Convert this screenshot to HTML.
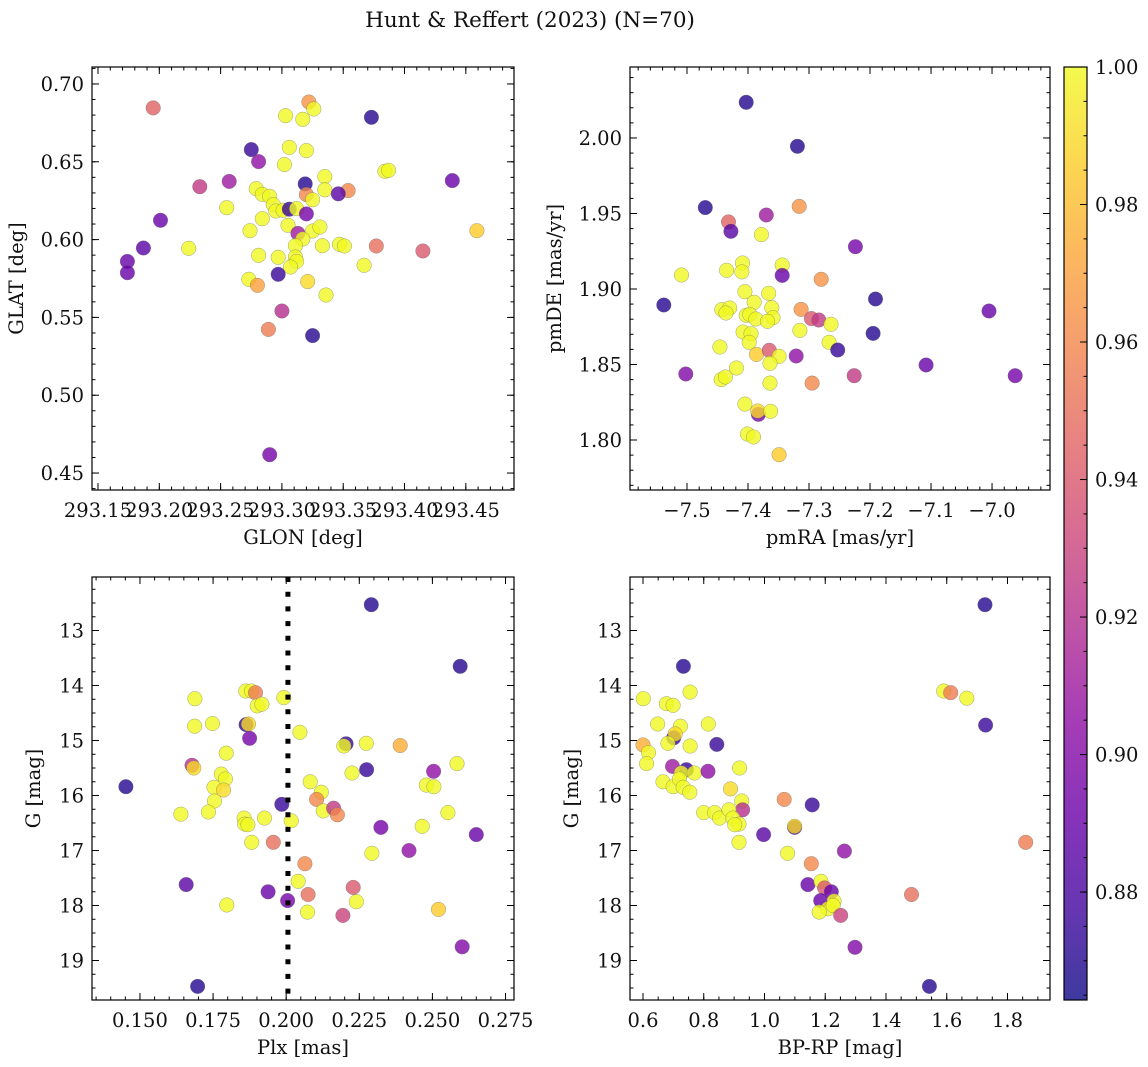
<!DOCTYPE html>
<html><head><meta charset="utf-8">
<style>
html,body{margin:0;padding:0;background:#fff;}
svg{display:block;font-family:"DejaVu Serif","Liberation Serif",serif;}
</style></head>
<body>
<svg id="fig" width="1148" height="1067" viewBox="0 0 1148 1067" xmlns="http://www.w3.org/2000/svg">
<rect width="1148" height="1067" fill="#fff"/>
<text x="530" y="27" font-size="21.5" text-anchor="middle" fill="#111">Hunt &amp; Reffert (2023) (N=70)</text>
<defs>
<linearGradient id="plasma" x1="0" y1="1" x2="0" y2="0">
<stop offset="0" stop-color="#0d0887"/><stop offset="0.1" stop-color="#41049d"/><stop offset="0.2" stop-color="#6a00a8"/><stop offset="0.3" stop-color="#8f0da4"/><stop offset="0.4" stop-color="#b12a90"/><stop offset="0.5" stop-color="#cc4778"/><stop offset="0.6" stop-color="#e16462"/><stop offset="0.7" stop-color="#f2844b"/><stop offset="0.8" stop-color="#fca636"/><stop offset="0.9" stop-color="#fcce25"/><stop offset="1" stop-color="#f0f921"/>
</linearGradient>
</defs>
</svg>
<script>
// ---- Panel 1: GLON vs GLAT ----
const glon=[293.195,293.322,293.326,293.303,293.317,293.373,293.275,293.281,293.306,293.320,293.302,293.384,293.387,293.439,293.233,293.257,293.335,293.319,293.335,293.354,293.346,293.320,293.325,293.279,293.284,293.290,293.293,293.255,293.295,293.301,293.306,293.312,293.320,293.201,293.284,293.274,293.305,293.313,293.325,293.331,293.317,293.311,293.333,293.347,293.351,293.377,293.415,293.459,293.224,293.187,293.174,293.174,293.281,293.297,293.311,293.312,293.307,293.367,293.297,293.273,293.280,293.321,293.336,293.300,293.289,293.325,293.290];
const glat=[0.6846,0.6884,0.6839,0.6796,0.6773,0.6786,0.6578,0.6501,0.6593,0.6572,0.6482,0.6439,0.6445,0.6379,0.6340,0.6374,0.6405,0.6358,0.6320,0.6315,0.6294,0.6289,0.6256,0.6327,0.6291,0.6278,0.6224,0.6205,0.6184,0.6188,0.6195,0.6199,0.6165,0.6124,0.6134,0.6057,0.6092,0.6040,0.6055,0.6081,0.6004,0.5961,0.5961,0.5970,0.5959,0.5959,0.5927,0.6057,0.5944,0.5946,0.5860,0.5787,0.5899,0.5886,0.5888,0.5860,0.5824,0.5835,0.5777,0.5745,0.5706,0.5730,0.5644,0.5541,0.5423,0.5383,0.4618];
const probPos=[0.945,0.965,1,1,1,0.87,0.875,0.905,1,1,1,1,1,0.89,0.925,0.91,1,0.87,1,0.96,0.885,0.96,1,1,1,1,1,1,1,1,0.875,1,0.895,0.89,1,1,1,0.91,1,1,1,1,1,1,1,0.95,0.94,0.985,1,0.885,0.89,0.89,1,1,1,1,1,1,0.875,1,0.97,0.99,1,0.92,0.955,0.87,0.895];
const glonTicks=[293.15,293.20,293.25,293.30,293.35,293.40,293.45];
const glatTicks=[0.45,0.50,0.55,0.60,0.65,0.70];

// ---- Panel 2: pmRA vs pmDE ----
const pmra=[-7.403,-7.319,-7.470,-7.370,-7.316,-7.432,-7.428,-7.378,-7.224,-7.509,-7.435,-7.409,-7.410,-7.344,-7.344,-7.280,-7.538,-7.191,-7.005,-7.405,-7.366,-7.390,-7.443,-7.430,-7.436,-7.361,-7.313,-7.403,-7.397,-7.387,-7.359,-7.368,-7.296,-7.284,-7.264,-7.315,-7.408,-7.395,-7.398,-7.267,-7.253,-7.195,-7.446,-7.386,-7.365,-7.349,-7.321,-7.364,-7.419,-7.502,-7.444,-7.437,-7.108,-6.962,-7.226,-7.295,-7.364,-7.405,-7.383,-7.384,-7.363,-7.401,-7.391,-7.349];
const pmde=[2.0236,1.9945,1.9539,1.9490,1.9547,1.9444,1.9382,1.9360,1.9280,1.9093,1.9124,1.9172,1.9113,1.9159,1.9090,1.9064,1.8894,1.8934,1.8854,1.8982,1.8971,1.8912,1.8863,1.8874,1.8841,1.8876,1.8865,1.8826,1.8832,1.8801,1.8810,1.8786,1.8804,1.8795,1.8766,1.8726,1.8715,1.8704,1.8647,1.8647,1.8596,1.8706,1.8616,1.8567,1.8594,1.8554,1.8556,1.8508,1.8477,1.8437,1.8400,1.8417,1.8497,1.8426,1.8426,1.8377,1.8377,1.8238,1.8170,1.8192,1.8190,1.8040,1.8020,1.7903];
const probPm=[0.87,0.87,0.87,0.91,0.965,0.945,0.885,1,0.895,1,1,1,1,1,0.89,0.965,0.87,0.87,0.89,1,1,1,1,1,1,1,0.965,1,1,1,1,1,0.94,0.925,1,1,1,1,1,1,0.875,0.87,1,0.985,0.94,1,0.905,1,1,0.9,1,1,0.89,0.895,0.925,0.96,1,1,0.895,0.99,1,1,1,0.985];
const pmraTicks=[-7.5,-7.4,-7.3,-7.2,-7.1,-7.0];
const pmdeTicks=[1.80,1.85,1.90,1.95,2.00];

// ---- Panel 3: Plx vs G ----
const plx=[0.2291,0.2595,0.1688,0.1687,0.1748,0.1862,0.1881,0.1895,0.1901,0.1917,0.1992,0.1863,0.1871,0.1875,0.2047,0.2205,0.2197,0.2274,0.2390,0.1795,0.1678,0.1684,0.2584,0.2504,0.2225,0.2275,0.1452,0.1778,0.1792,0.1753,0.1786,0.1755,0.2082,0.2120,0.2104,0.2479,0.2505,0.1985,0.1640,0.1734,0.1856,0.1858,0.1869,0.1926,0.2017,0.2127,0.2162,0.2175,0.2553,0.2324,0.2465,0.2650,0.1882,0.1956,0.2293,0.2420,0.2064,0.1658,0.2041,0.2229,0.1938,0.2075,0.2005,0.2240,0.1797,0.2073,0.2521,0.2194,0.2602,0.1697];
const gPlx=[12.53,13.65,14.24,14.74,14.69,14.10,14.10,14.13,14.37,14.34,14.22,14.71,14.70,14.96,14.85,15.06,15.10,15.05,15.09,15.23,15.45,15.50,15.42,15.56,15.59,15.53,15.84,15.61,15.70,15.85,15.90,16.10,15.75,15.94,16.07,15.81,15.84,16.16,16.34,16.30,16.41,16.52,16.53,16.41,16.46,16.28,16.23,16.35,16.31,16.58,16.56,16.71,16.85,16.85,17.05,17.00,17.24,17.62,17.56,17.67,17.75,17.80,17.91,17.93,17.99,18.12,18.07,18.18,18.75,19.47];
const probPlx=[0.87,0.87,1,1,1,1,1,0.955,1,1,1,0.875,0.99,0.895,1,0.875,1,1,0.975,1,0.92,0.99,1,0.905,1,0.875,0.87,1,1,1,0.99,1,1,1,0.96,1,1,0.875,1,1,1,1,1,1,1,1,0.925,0.96,1,0.895,1,0.89,1,0.95,1,0.905,0.96,0.885,1,0.94,0.89,0.95,0.895,1,1,1,0.985,0.93,0.9,0.87];
const plxCut=[0.2006];
const plxTicks=[0.150,0.175,0.200,0.225,0.250,0.275];
const gTicks=[13,14,15,16,17,18,19];

// ---- Panel 4: BP-RP vs G ----
const bprp=[1.726,0.733,1.590,1.613,1.666,1.728,0.601,0.755,0.677,0.699,0.648,0.723,0.815,0.701,0.706,0.682,0.600,0.755,0.843,0.618,0.612,0.697,0.743,0.726,0.769,0.814,0.918,0.666,0.699,0.720,0.732,0.754,0.888,1.065,1.157,0.925,0.928,0.800,0.836,0.852,0.883,0.896,0.916,0.902,1.099,1.099,0.997,0.916,1.076,1.263,1.154,1.860,1.143,1.186,1.198,1.220,1.185,1.229,1.209,1.180,1.226,1.251,1.484,1.298,1.543];
const gCmd=[12.53,13.65,14.10,14.13,14.23,14.72,14.24,14.12,14.33,14.36,14.70,14.74,14.70,14.95,14.88,15.05,15.08,15.10,15.07,15.22,15.42,15.47,15.53,15.59,15.59,15.56,15.50,15.75,15.84,15.70,15.85,15.94,15.88,16.07,16.17,16.10,16.26,16.31,16.31,16.41,16.26,16.41,16.52,16.53,16.58,16.56,16.71,16.85,17.05,17.01,17.24,16.85,17.62,17.56,17.68,17.75,17.91,17.92,18.06,18.12,18.00,18.18,17.80,18.76,19.47];
const probCmd=[0.87,0.87,1,0.955,1,0.875,1,1,1,1,1,1,1,0.875,0.99,1,0.975,1,0.875,1,1,0.91,0.875,1,1,0.905,1,1,1,1,1,1,0.99,0.96,0.875,1,0.92,1,1,1,1,1,1,1,0.88,0.99,0.885,1,1,0.905,0.96,0.955,0.89,1,0.94,0.89,0.89,1,1,1,1,0.93,0.95,0.9,0.87];
const bprpTicks=[0.6,0.8,1.0,1.2,1.4,1.6,1.8];

// ---- Colorbar ----
const cbarTicks=[0.88,0.90,0.92,0.94,0.96,0.98,1.00];
const cbarMin=0.8643, cbarMax=1.0;

const NS="http://www.w3.org/2000/svg";
const svg=document.getElementById('fig');
const FS=19.5;
function el(tag,attrs,parent){const e=document.createElementNS(NS,tag);for(const k in attrs)e.setAttribute(k,attrs[k]);(parent||svg).appendChild(e);return e;}
const stops=[[13,8,135],[65,4,157],[106,0,168],[143,13,164],[177,42,144],[204,71,120],[225,100,98],[242,132,75],[252,166,54],[252,206,37],[240,249,33]];
function plasma(v){let t=(v-cbarMin)/(cbarMax-cbarMin);t=Math.max(0,Math.min(1,t));const f=t*10,i=Math.min(9,Math.floor(f)),r=f-i;const a=stops[i],b=stops[i+1];return 'rgb('+[0,1,2].map(k=>Math.round(a[k]+(b[k]-a[k])*r)).join(',')+')';}
function fmt(v,d){const s=Math.abs(v).toFixed(d);return (v<0?'\u2212':'')+s;}

function panel(opt){
  const g=el('g',{});
  
  
  const {L,T,W,H,xd,yd}=opt;
  const sx=v=>L+(v-xd[0])/(xd[1]-xd[0])*W;
  const sy=v=>T+(yd[1]-v)/(yd[1]-yd[0])*H;
  const pg=el('g',{},g);
  
  
  for(let i=0;i<opt.xs.length;i++){
    const c=el('circle',{cx:sx(opt.xs[i]).toFixed(1),cy:sy(opt.ys[i]).toFixed(1),r:7.3,fill:plasma(opt.ps[i]),'fill-opacity':0.8,stroke:'#666','stroke-width':0.5,'stroke-opacity':0.6},pg);
    
    
  }
  if(opt.vline){for(const v of opt.vline){const l=el('line',{x1:sx(v),x2:sx(v),y1:T,y2:T+H,stroke:'#000','stroke-width':5,'stroke-dasharray':'5 9.7'},g);
    
    }}
  const fr=el('rect',{x:L,y:T,width:W,height:H,fill:'none',stroke:'#000','stroke-width':1.2},g);
  
  
  const tk=el('g',{stroke:'#000','stroke-width':1},g);
  for(let v=Math.ceil(xd[0]/opt.xm-1e-6)*opt.xm;v<=xd[1]+1e-9;v+=opt.xm){const x=sx(v);el('line',{x1:x,x2:x,y1:T+H,y2:T+H-3.5},tk);el('line',{x1:x,x2:x,y1:T,y2:T+3.5},tk);}
  for(let v=Math.ceil(yd[0]/opt.ym-1e-6)*opt.ym;v<=yd[1]+1e-9;v+=opt.ym){const y=sy(v);el('line',{x1:L,x2:L+3.5,y1:y,y2:y},tk);el('line',{x1:L+W,x2:L+W-3.5,y1:y,y2:y},tk);}
  for(const v of opt.xt){const x=sx(v);el('line',{x1:x,x2:x,y1:T+H,y2:T+H-7},tk);el('line',{x1:x,x2:x,y1:T,y2:T+7},tk);
    const t=el('text',{x:x,y:T+H+27,'font-size':FS,'text-anchor':'middle',fill:'#111'},g);t.textContent=fmt(v,opt.xdp);
    
    }
  for(const v of opt.yt){const y=sy(v);el('line',{x1:L,x2:L+7,y1:y,y2:y},tk);el('line',{x1:L+W,x2:L+W-7,y1:y,y2:y},tk);
    const t=el('text',{x:L-8,y:y+7,'font-size':FS,'text-anchor':'end',fill:'#111'},g);t.textContent=fmt(v,opt.ydp);
    
    }
  const xl=el('text',{x:L+W/2,y:T+H+54,'font-size':FS,'text-anchor':'middle',fill:'#111'},g);xl.textContent=opt.xlab;
  
  
  const yx=opt.ylx, yy=T+H/2;
  const yl=el('text',{x:yx,y:yy,'font-size':FS,'text-anchor':'middle',fill:'#111',transform:'rotate(-90 '+yx+' '+yy+')'},g);yl.textContent=opt.ylab;
  
  
}

panel({name:'glon-glat-panel',L:92,T:67,W:422,H:423,xd:[293.1451,293.4893],yd:[0.4391,0.7109],xs:glon,ys:glat,ps:probPos,xt:glonTicks,yt:glatTicks,xm:0.01,ym:0.01,xdp:2,ydp:2,xlab:'GLON [deg]',ylab:'GLAT [deg]',ylx:23});
panel({name:'pm-panel',L:630,T:67,W:420,H:423,xd:[-7.5934,-6.905],yd:[1.7669,2.047],xs:pmra,ys:pmde,ps:probPm,xt:pmraTicks,yt:pmdeTicks,xm:0.02,ym:0.01,xdp:1,ydp:2,xlab:'pmRA [mas/yr]',ylab:'pmDE [mas/yr]',ylx:561});
panel({name:'plx-g-panel',L:92,T:577,W:422,H:423,xd:[0.1336,0.2779],yd:[-19.718,-12.027],xs:plx,ys:gPlx.map(v=>-v),ps:probPlx,xt:plxTicks,yt:gTicks.map(v=>-v),xm:0.005,ym:0.25,xdp:3,ydp:0,xlab:'Plx [mas]',ylab:'G [mag]',ylx:40,vline:plxCut});
panel({name:'cmd-panel',L:630,T:577,W:420,H:423,xd:[0.5572,1.940],yd:[-19.718,-12.027],xs:bprp,ys:gCmd.map(v=>-v),ps:probCmd,xt:bprpTicks,yt:gTicks.map(v=>-v),xm:0.05,ym:0.25,xdp:1,ydp:0,xlab:'BP-RP [mag]',ylab:'G [mag]',ylx:578});
document.querySelectorAll('text').forEach(t=>{if(/^\u2212\d+$/.test(t.textContent))t.textContent=t.textContent.slice(1);});

const cb=el('g',{});


const CL=1064,CT=67,CW=23,CH=933;
el('rect',{x:CL,y:CT,width:CW,height:CH,fill:'url(#plasma)','fill-opacity':0.8},cb);
el('rect',{x:CL,y:CT,width:CW,height:CH,fill:'none',stroke:'#000','stroke-width':1.2},cb);
const cy=v=>CT+(cbarMax-v)/(cbarMax-cbarMin)*CH;
for(let v=0.865;v<=1.0001;v+=0.005){el('line',{x1:CL+CW,x2:CL+CW-3.5,y1:cy(v),y2:cy(v),stroke:'#000'},cb);}
for(const v of cbarTicks){el('line',{x1:CL+CW,x2:CL+CW-7,y1:cy(v),y2:cy(v),stroke:'#000'},cb);
  const t=el('text',{x:CL+CW+8,y:cy(v)+7,'font-size':FS,fill:'#111'},cb);t.textContent=v.toFixed(2);
  
  }
</script>
</body></html>
